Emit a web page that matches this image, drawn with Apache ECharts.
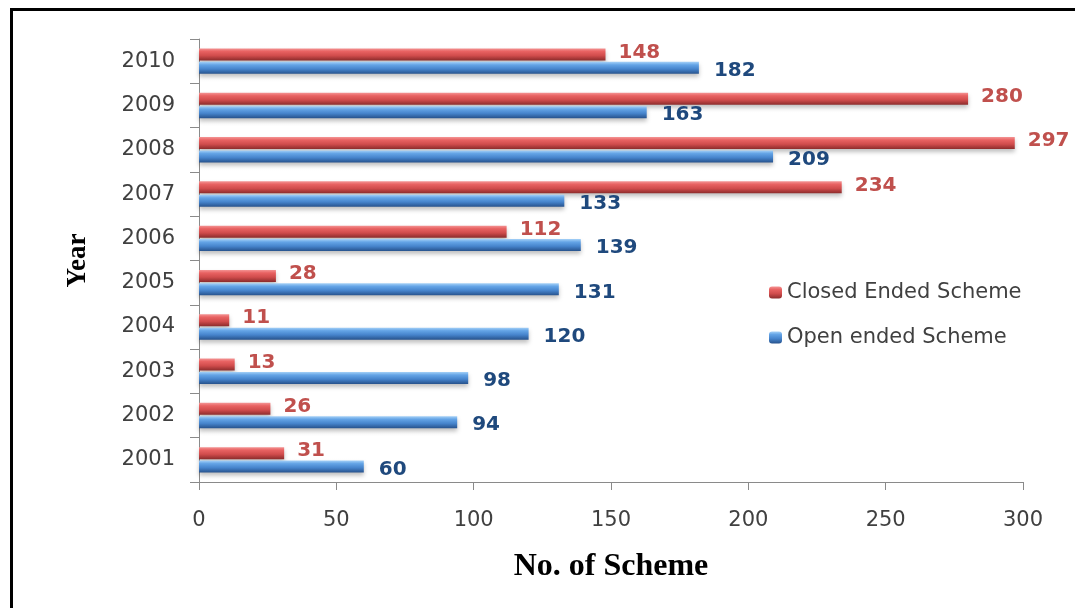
<!DOCTYPE html>
<html>
<head>
<meta charset="utf-8">
<script src="https://cdn.jsdelivr.net/npm/echarts@6/dist/echarts.min.js"></script>
<style>html,body{margin:0;padding:0;background:#fff}#c{width:1075px;height:608px}</style>
</head>
<body>
<div id="c"></div>
<script>
var years = ['2001','2002','2003','2004','2005','2006','2007','2008','2009','2010'];
var openEnded = [60, 94, 98, 120, 131, 139, 133, 209, 163, 182];
var closedEnded = [31, 26, 13, 11, 28, 112, 234, 297, 280, 148];
var xTicks = [0, 50, 100, 150, 200, 250, 300];

var chart = echarts.init(document.getElementById('c'));
function grad(stops){
  return new echarts.graphic.LinearGradient(0,0,0,1, stops.map(function(s){return {offset:s[0],color:s[1]};}));
}
var redGrad = grad([[0,'#F49494'],[0.25,'#E86262'],[0.6,'#D04C4C'],[1,'#8C2C2C']]);
var blueGrad = grad([[0,'#A4D0F7'],[0.25,'#64A4E6'],[0.6,'#4684CC'],[1,'#27528C']]);
var labelFont = 'DejaVu Sans';
chart.setOption({
  animation:false,
  backgroundColor:'#fff',
  graphic:[{type:'rect',left:9,top:7,shape:{width:1100,height:700},style:{fill:'none',stroke:'#000',lineWidth:3}}],
  grid:{left:199,top:39,width:824,height:443},
  legend:{
    orient:'vertical', left:764, top:277, itemWidth:13, itemHeight:12, itemGap:24,
    data:['Closed Ended Scheme','Open ended Scheme'],
    textStyle:{fontFamily:labelFont,fontSize:21,color:'#404040'}
  },
  xAxis:{
    type:'value', min:0, max:300, interval:50,
    axisLine:{show:true,lineStyle:{color:'#8a8a8a'}},
    axisTick:{show:true,length:8,lineStyle:{color:'#8a8a8a'}},
    splitLine:{show:false},
    axisLabel:{margin:28,fontFamily:labelFont,fontSize:21,color:'#404040'},
    name:'No. of Scheme', nameLocation:'middle', nameGap:69,
    nameTextStyle:{fontFamily:'Liberation Serif',fontWeight:'bold',fontSize:32,color:'#000'}
  },
  yAxis:{
    type:'category', data:years,
    axisLine:{show:true,lineStyle:{color:'#8a8a8a'}},
    axisTick:{show:true,length:9,lineStyle:{color:'#8a8a8a'}},
    axisLabel:{margin:24,fontFamily:labelFont,fontSize:21,color:'#404040'},
    name:'Year', nameLocation:'middle', nameGap:107, nameRotate:90,
    nameTextStyle:{fontFamily:'Liberation Serif',fontWeight:'bold',fontSize:27,color:'#000'}
  },
  series:[
    {name:'Closed Ended Scheme', type:'bar', data:closedEnded, barWidth:12, barGap:'12%',
     itemStyle:{color:redGrad, shadowColor:'rgba(0,0,0,0.25)', shadowBlur:4, shadowOffsetY:3},
     label:{show:true,position:'right',distance:13,offset:[0,-2],fontFamily:labelFont,fontWeight:'bold',fontSize:20,color:'#C0504D'}},
    {name:'Open ended Scheme', type:'bar', data:openEnded, barWidth:12, barGap:'12%',
     itemStyle:{color:blueGrad, shadowColor:'rgba(0,0,0,0.25)', shadowBlur:4, shadowOffsetY:3},
     label:{show:true,position:'right',distance:15,offset:[0,3],fontFamily:labelFont,fontWeight:'bold',fontSize:20,color:'#1F497D'}}
  ]
});
</script>
</body>
</html>
